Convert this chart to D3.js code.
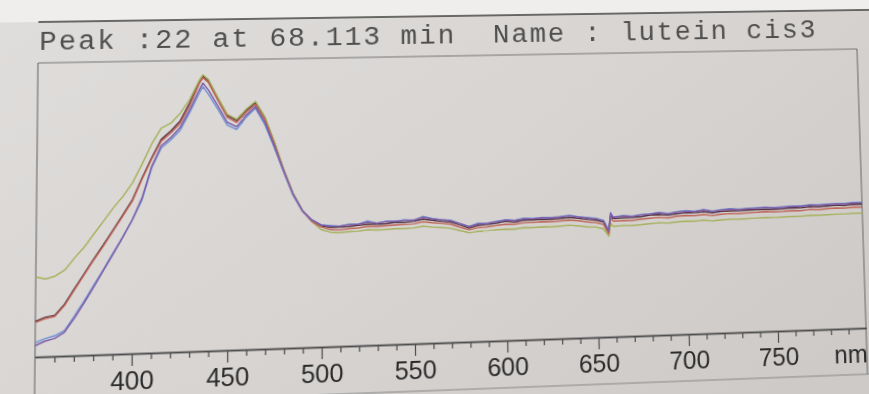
<!DOCTYPE html>
<html>
<head>
<meta charset="utf-8">
<script src="https://cdn.jsdelivr.net/npm/d3@7"></script>
<style>
  html, body { margin: 0; padding: 0; width: 869px; height: 394px; overflow: hidden; background: #e9e8e6; }
  #sheet { position: absolute; left: 0; top: 0; transform-origin: 0 0; }
</style>
</head>
<body>
<svg id="sheet"></svg>
<script>
// Wavelength grid (nm) shared by every trace
const wavelengths = [350,355,360,365,370,375,380,385,390,395,400,405,410,415,420,425,430,435,437,440,445,450,455,460,465,470,475,480,485,490,495,
  500,505,510,515,520,525,530,535,540,545,550,555,560,565,570,575,580,585,590,595,600,605,610,615,620,625,630,635,640,645,650,
  654,656.8,658,659,
  660,665,670,675,680,685,690,695,700,705,710,715,720,725,730,735,740,745,750,755,760,765,770,775,780,785,790,795,800];

// Relative absorbance (% of full scale) of each spectrum
const traceGreen = [26.9,26.1,27.0,29.0,33.0,36.6,41.0,45.3,49.7,53.5,58.1,64.5,71.3,76.7,78.3,81.7,86.4,92.9,94.9,93.2,86.9,81.0,79.2,82.6,85.3,80.0,71.3,61.6,53.2,47.2,43.2,
  40.3,39.3,39.1,39.3,39.4,39.8,39.6,39.7,39.9,39.9,40.0,40.5,40.1,39.9,39.5,38.6,37.8,38.2,38.2,38.5,38.7,38.6,39.0,38.9,39.1,39.0,39.2,39.4,39.1,38.7,38.4,
  37.8,35.2,39.7,38.8,
  38.6,38.8,38.7,38.9,39.2,39.4,39.2,39.5,39.7,39.6,39.9,39.5,39.8,40.0,39.9,40.0,40.1,40.2,40.1,40.2,40.3,40.3,40.6,40.5,40.6,40.7,40.7,40.8,40.8];

const traceRed = [11.6,12.8,13.4,17.0,22.1,27.1,32.1,36.8,41.8,46.8,51.9,59.3,66.1,72.2,74.9,78.2,84.3,91.8,93.9,92.1,85.9,80.0,78.1,81.5,84.2,79.0,70.6,61.2,52.9,46.9,43.2,
  41.2,40.2,40.0,40.3,40.5,41.0,40.8,41.0,41.2,41.3,41.4,42.0,41.6,41.3,40.9,39.8,38.8,39.5,39.6,40.0,40.4,40.3,40.7,40.7,40.9,40.8,41.0,41.2,40.9,40.4,40.0,
  39.3,36.0,41.8,40.6,
  40.4,40.6,40.5,40.8,41.1,41.3,41.0,41.5,41.7,41.6,41.9,41.4,41.8,42.0,41.9,42.0,42.1,42.3,42.1,42.2,42.4,42.3,42.7,42.5,42.7,42.9,42.8,43.1,43.0];

const traceBlue = [4.8,6.0,6.9,8.5,13.2,18.2,23.5,28.8,34.3,39.7,45.4,52.1,63.0,69.8,72.5,75.8,81.9,88.4,90.8,88.0,82.8,77.2,75.7,79.8,82.9,77.2,69.2,60.6,52.5,46.9,43.7,
  41.9,41.6,41.3,41.9,41.8,42.8,41.9,42.6,42.4,42.9,42.6,43.9,43.1,42.5,42.3,41.0,40.0,41.0,40.8,41.5,42.0,41.6,42.3,42.1,42.4,42.3,42.5,42.9,42.3,42.0,41.5,
  40.8,37.3,43.4,42.2,
  41.9,42.3,42.0,42.5,42.6,43.1,42.6,43.1,43.4,43.1,43.6,43.0,43.4,43.7,43.4,43.6,43.8,43.9,43.7,43.9,44.0,44.0,44.3,44.2,44.4,44.5,44.5,44.7,44.7];

const tracePurple = [3.8,5.2,6.0,7.9,12.5,17.5,22.9,28.4,33.9,39.5,45.5,52.8,63.5,70.6,73.3,76.8,82.8,89.6,92.0,89.5,84.0,78.2,76.6,80.5,83.5,78.0,69.8,61.0,52.8,47.1,43.8,
  41.9,41.4,41.3,41.7,41.8,42.5,42.0,42.4,42.5,42.6,42.7,43.6,42.9,42.6,42.1,41.0,39.9,40.8,40.9,41.3,41.8,41.6,42.1,42.0,42.3,42.1,42.4,42.7,42.2,41.8,41.4,
  40.6,37.0,43.3,42.0,
  41.8,42.1,41.9,42.3,42.6,42.9,42.4,43.0,43.2,43.0,43.5,42.8,43.3,43.5,43.3,43.5,43.6,43.8,43.5,43.7,43.9,43.8,44.2,44.0,44.2,44.4,44.3,44.6,44.5];

const traceDark = [12.0,13.2,13.8,17.4,22.5,27.5,32.5,37.2,42.2,47.2,52.3,59.7,66.5,72.8,75.6,79.0,85.2,92.4,94.5,92.8,86.5,80.6,78.8,82.2,84.9,79.6,71.0,61.4,53.0,47.0,43.3,
  41.6,41.0,41.0,41.1,41.4,41.8,41.6,41.7,42.1,42.0,42.3,42.9,42.5,42.0,41.7,40.6,39.4,40.3,40.5,40.8,41.4,41.1,41.6,41.6,41.8,41.7,41.9,42.1,41.8,41.3,40.9,
  40.2,36.6,42.8,41.5,
  41.3,41.5,41.5,41.7,42.2,42.3,42.0,42.4,42.7,42.6,42.9,42.4,42.8,42.9,42.9,43.0,43.1,43.2,43.1,43.2,43.4,43.3,43.7,43.5,43.7,43.9,43.8,44.1,44.0];

// Axis ticks and labels
const majorTicks = [400, 450, 500, 550, 600, 650, 700, 750];
const tickLabels = ["400", "450", "500", "550", "600", "650", "700", "750"];
const unitLabel = "nm";
const titleText = "Peak :22 at 68.113 min  Name : lutein cis3";

// Draw order: bottom to top
const traces = [
  { name: "dark",   values: traceDark,   color: "#55303d" },
  { name: "green",  values: traceGreen,  color: "#a6b25c" },
  { name: "red",    values: traceRed,    color: "#bf6659" },
  { name: "blue",   values: traceBlue,   color: "#7492d4" },
  { name: "purple", values: tracePurple, color: "#7d5ea8" }
];

// Flat page layout
const OFF = 20;
const W = 940, H = 470;
const frame = { left: 36, right: 864, top: 56, bottom: 345, rule: 15, foot: 392 };

const svg = d3.select("#sheet").attr("width", W).attr("height", H);
const defs = svg.append("defs");
const grad = defs.append("linearGradient").attr("id", "paper")
  .attr("x1", 0).attr("y1", 0).attr("x2", 1).attr("y2", 0.7);
grad.append("stop").attr("offset", 0).attr("stop-color", "#e0dedc");
grad.append("stop").attr("offset", 0.55).attr("stop-color", "#d7d4d2");
grad.append("stop").attr("offset", 1).attr("stop-color", "#cdcac8");

const g = svg.append("g").attr("transform", `translate(${OFF},${OFF})`);

// paper
g.append("rect").attr("x", -OFF).attr("y", -OFF).attr("width", W).attr("height", H).attr("fill", "url(#paper)");
g.append("rect").attr("x", -OFF).attr("y", -OFF).attr("width", W).attr("height", OFF + frame.rule)
  .attr("fill", "#efeeec");

const ink = "#4d4d4d";

// header rule and title
g.append("line").attr("x1", frame.left).attr("x2", W).attr("y1", frame.rule).attr("y2", frame.rule)
  .attr("stroke", "#3e3e3e").attr("stroke-width", 1.6);
g.append("text")
  .attr("x", 37).attr("y", 43)
  .style("white-space", "pre")
  .attr("font-family", "'Liberation Mono', 'Courier New', monospace")
  .attr("font-size", 28).attr("letter-spacing", 1.9)
  .attr("fill", "#4f4f4f")
  .text(titleText);

// plot frame
g.append("line").attr("x1", frame.left).attr("x2", frame.right).attr("y1", frame.top).attr("y2", frame.top)
  .attr("stroke", "#777").attr("stroke-width", 1.2);
g.append("line").attr("x1", frame.left).attr("x2", frame.left).attr("y1", frame.top).attr("y2", H)
  .attr("stroke", "#777").attr("stroke-width", 1.2);
g.append("line").attr("x1", frame.right).attr("x2", frame.right).attr("y1", frame.top).attr("y2", frame.foot)
  .attr("stroke", "#777").attr("stroke-width", 1.2);
g.append("line").attr("x1", -OFF).attr("x2", W).attr("y1", frame.foot).attr("y2", frame.foot)
  .attr("stroke", "#8a8a8a").attr("stroke-width", 1.1);

// scales
const x = d3.scaleLinear().domain([350, 800]).range([frame.left, frame.right]);
const y = d3.scaleLinear().domain([0, 100]).range([frame.bottom, frame.top]);

// traces
const line = d3.line()
  .defined(d => d[1] != null)
  .x(d => x(d[0]))
  .y(d => y(d[1]));

const traceLayer = g.append("g").attr("fill", "none").attr("stroke-width", 1.45)
  .attr("stroke-linejoin", "round");
traces.forEach(t => {
  traceLayer.append("path")
    .datum(wavelengths.map((w, i) => [w, t.values[i]]))
    .attr("stroke", t.color)
    .attr("d", line);
});

// x axis: minor ticks every 10 nm, major ticks with labels every 50 nm
const minorTicks = d3.range(360, 800, 10).filter(v => v % 50 !== 0);
const axisMinor = d3.axisBottom(x).tickValues(minorTicks).tickSize(6).tickSizeOuter(0).tickFormat("");
const axisMajor = d3.axisBottom(x).tickValues(majorTicks).tickSize(12).tickSizeOuter(0)
  .tickPadding(5).tickFormat((d, i) => tickLabels[i]);

const gMinor = g.append("g").attr("transform", `translate(0,${frame.bottom})`).call(axisMinor);
const gMajor = g.append("g").attr("transform", `translate(0,${frame.bottom})`).call(axisMajor);
[gMinor, gMajor].forEach(a => {
  a.select(".domain").attr("stroke", ink).attr("stroke-width", 1.4);
  a.selectAll(".tick line").attr("stroke", ink).attr("stroke-width", 1.2);
});
gMajor.selectAll(".tick text")
  .attr("font-family", "'Liberation Sans', Arial, sans-serif")
  .attr("font-size", 25).attr("fill", "#2b2b2b");

g.append("text")
  .attr("x", 830).attr("y", frame.bottom + 35)
  .attr("font-family", "'Liberation Sans', Arial, sans-serif")
  .attr("font-size", 25).attr("fill", "#2b2b2b")
  .text(unitLabel);

// Perspective of the printed page: map the flat frame corners onto the photographed sheet
function homography(src, dst) {
  const A = [], b = [];
  for (let i = 0; i < 4; i++) {
    const [sx, sy] = src[i], [dx, dy] = dst[i];
    A.push([sx, sy, 1, 0, 0, 0, -sx * dx, -sy * dx]); b.push(dx);
    A.push([0, 0, 0, sx, sy, 1, -sx * dy, -sy * dy]); b.push(dy);
  }
  const n = 8;
  for (let c = 0; c < n; c++) {
    let p = c;
    for (let r = c + 1; r < n; r++) if (Math.abs(A[r][c]) > Math.abs(A[p][c])) p = r;
    [A[c], A[p]] = [A[p], A[c]]; [b[c], b[p]] = [b[p], b[c]];
    for (let r = 0; r < n; r++) {
      if (r === c) continue;
      const f = A[r][c] / A[c][c];
      for (let k = c; k < n; k++) A[r][k] -= f * A[c][k];
      b[r] -= f * b[c];
    }
  }
  return b.map((v, i) => v / A[i][i]);
}

const src = [
  [frame.left + OFF, frame.top + OFF], [frame.right + OFF, frame.top + OFF],
  [frame.right + OFF, frame.bottom + OFF], [frame.left + OFF, frame.bottom + OFF]
];
const dst = [[38, 63], [857, 49], [866, 328], [35, 357]];
const [a, bb, c, d, e, f, gg, hh] = homography(src, dst);
document.getElementById("sheet").style.transform =
  `matrix3d(${a},${d},0,${gg},${bb},${e},0,${hh},0,0,1,0,${c},${f},0,1)`;
</script>
</body>
</html>
